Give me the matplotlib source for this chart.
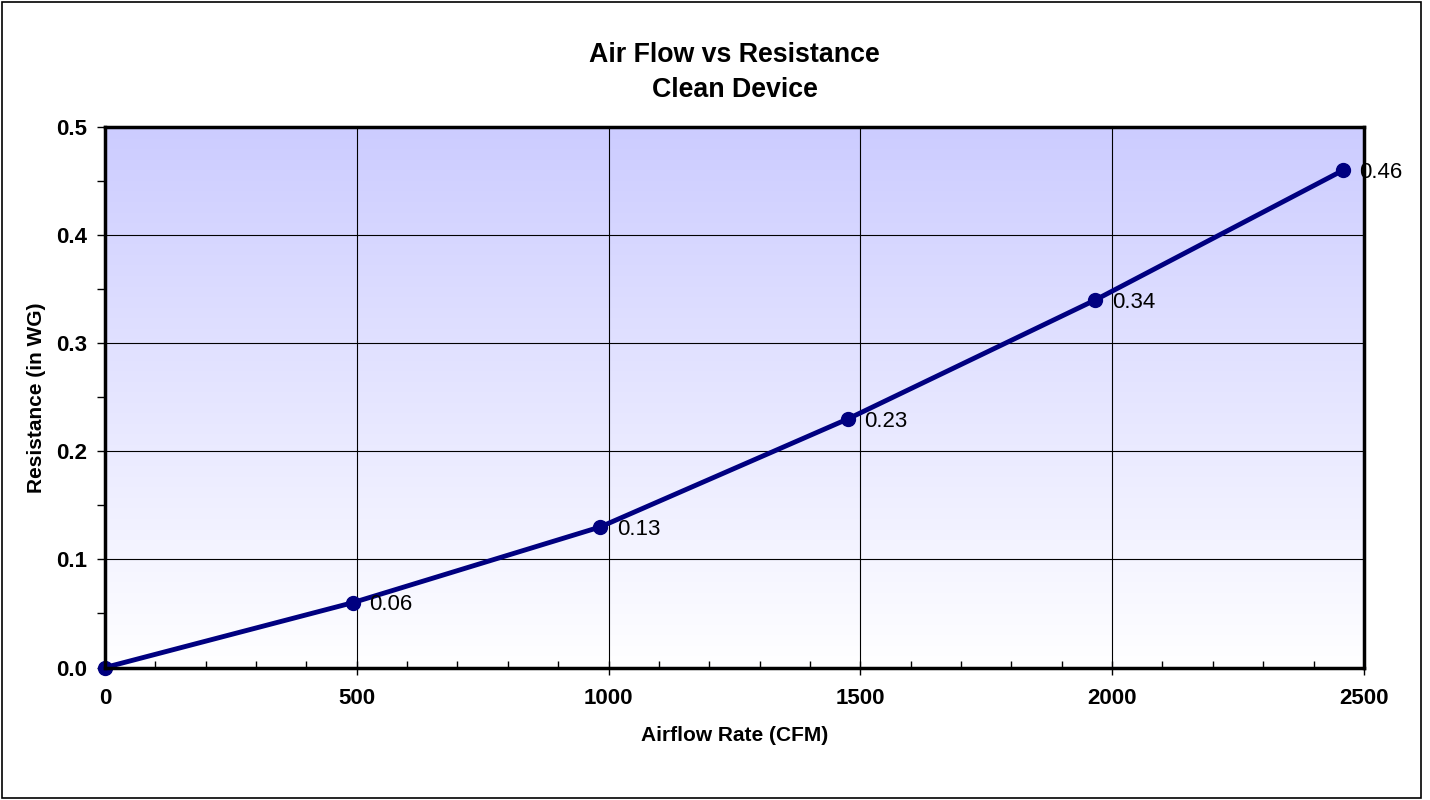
import matplotlib.pyplot as plt
import numpy as np
from matplotlib.patches import Rectangle
from matplotlib.ticker import MultipleLocator

# data
airflow = [0, 492, 983, 1475, 1966, 2458]
resistance = [0.0, 0.06, 0.13, 0.23, 0.34, 0.46]
labels = ['', '0.06', '0.13', '0.23', '0.34', '0.46']

plt.rcParams['font.family'] = ['Liberation Sans', 'DejaVu Sans']

fig = plt.figure(figsize=(14.3, 8), dpi=100)
ax = fig.add_axes([0.0734, 0.1656, 0.8804, 0.6754])

# outer chart border
fig.patches.append(Rectangle((0.0015, 0.002), 0.9925, 0.996, transform=fig.transFigure,
                             fill=False, edgecolor='black', linewidth=1.2))

# gradient background in plot area
grad = np.linspace(0, 1, 256).reshape(-1, 1)
top = np.array([0.80, 0.80, 1.0])
bottom = np.array([1.0, 1.0, 1.0])
img = bottom + (top - bottom) * grad[:, :, None]
ax.imshow(img, extent=[0, 2500, 0, 0.5], origin='lower', aspect='auto', zorder=0)

ax.set_xlim(0, 2500)
ax.set_ylim(0, 0.5)
ax.grid(True, color='black', linewidth=0.8, zorder=1)
ax.set_axisbelow(False)

ax.plot(airflow, resistance, color='#000080', linewidth=3.5, marker='o',
        markersize=10, zorder=3, clip_on=False)
for x, y, t in zip(airflow, resistance, labels):
    ax.annotate(t, (x, y), xytext=(12, -1.5), textcoords='offset points',
                va='center', ha='left', fontsize=16, zorder=4, annotation_clip=False)

ax.xaxis.set_major_locator(MultipleLocator(500))
ax.xaxis.set_minor_locator(MultipleLocator(100))
ax.yaxis.set_major_locator(MultipleLocator(0.1))
ax.yaxis.set_minor_locator(MultipleLocator(0.05))
ax.set_yticklabels([f'{v:.1f}' for v in ax.get_yticks()])

ax.tick_params(axis='x', which='major', direction='inout', length=10, width=1, pad=10)
ax.tick_params(axis='x', which='minor', direction='in', length=5, width=1)
ax.tick_params(axis='y', which='major', direction='out', length=6, width=1, pad=7)
ax.tick_params(axis='y', which='minor', direction='out', length=6, width=1)
for lab in ax.get_xticklabels() + ax.get_yticklabels():
    lab.set_fontweight('bold')
    lab.set_fontsize(16)

for s in ax.spines.values():
    s.set_linewidth(2.5)
    s.set_zorder(5)

ax.set_xlabel('Airflow Rate (CFM)', fontsize=15, fontweight='bold', labelpad=12)
ax.set_ylabel('Resistance (in WG)', fontsize=15, fontweight='bold', labelpad=7)
ax.set_title('Air Flow vs Resistance\nClean Device', fontsize=19.3, fontweight='bold',
             pad=22, linespacing=1.45)

fig.savefig('out.png', dpi=100)
